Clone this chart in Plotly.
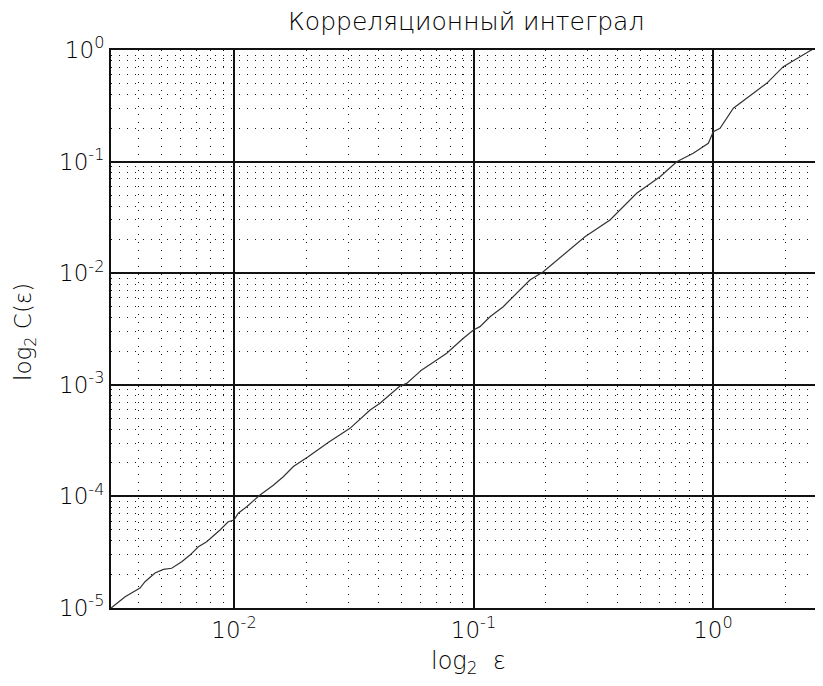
import plotly.graph_objects as go

# Curve values (epsilon, C(epsilon))
eps = [0.00307, 0.00351, 0.00405, 0.00425, 0.00468, 0.00507, 0.00549, 0.00605,
       0.00655, 0.00710, 0.00769, 0.00874, 0.00946, 0.0100, 0.01042, 0.0113,
       0.01284, 0.01459, 0.01606, 0.0177, 0.0204, 0.0249, 0.0305, 0.0370,
       0.0407, 0.0493, 0.0526, 0.0608, 0.0702, 0.0773, 0.0907, 0.100, 0.1064,
       0.1172, 0.1331, 0.1466, 0.159, 0.172, 0.1956, 0.245, 0.292, 0.3715,
       0.480, 0.601, 0.7054, 0.827, 0.956, 1.003, 1.07, 1.216, 1.473, 1.676,
       1.966, 2.308, 2.445, 2.541, 2.591]
corr = [1.00e-5, 1.26e-5, 1.51e-5, 1.72e-5, 2.06e-5, 2.22e-5, 2.27e-5, 2.60e-5,
        2.98e-5, 3.54e-5, 3.93e-5, 5.0e-5, 5.93e-5, 6.15e-5, 7.06e-5, 8.09e-5,
        1.03e-4, 1.26e-4, 1.50e-4, 1.85e-4, 2.27e-4, 3.07e-4, 4.07e-4, 5.94e-4,
        6.83e-4, 9.76e-4, 1.03e-3, 1.36e-3, 1.67e-3, 1.92e-3, 2.61e-3, 3.10e-3,
        3.32e-3, 4.07e-3, 5.01e-3, 6.16e-3, 7.22e-3, 8.69e-3, 1.031e-2, 1.56e-2,
        2.12e-2, 3.0e-2, 5.2e-2, 7.32e-2, 0.0998, 0.1187, 0.1459, 0.1853, 0.1988,
        0.3004, 0.409, 0.503, 0.7085, 0.871, 0.950, 0.986, 1.0]

x_major = [0.01, 0.1, 1]
x_major_text = ["10<sup>-2</sup>", "10<sup>-1</sup>", "10<sup>0</sup>"]
y_major = [1e-5, 1e-4, 1e-3, 1e-2, 1e-1, 1]
y_major_text = ["10<sup>-5</sup>", "10<sup>-4</sup>", "10<sup>-3</sup>",
                "10<sup>-2</sup>", "10<sup>-1</sup>", "10<sup>0</sup>"]

title_text = "Корреляционный интеграл"
xlabel = "log<sub>2</sub>  ε"
ylabel = "log<sub>2</sub> C(ε)"

x_minor = [m * 10 ** e for e in range(-3, 1) for m in range(2, 10)]
y_minor = [m * 10 ** e for e in range(-5, 0) for m in range(2, 10)]

FONT = "DejaVu Sans"
TXT = "#000000"

# page body has an 8px margin: figure is placed at (8, 8)
W, H = 815, 678
L, R, T, B = 103, 0, 42, 78
PW, PH = W - L - R, H - T - B


def px_x(page_x):
    return (page_x - 8 - L) / PW


def px_y(page_y):
    return (H - B - (page_y - 8)) / PH


fig = go.Figure()
fig.add_trace(go.Scatter(x=eps, y=corr, mode="lines",
                         line=dict(color="#333333", width=1.2),
                         showlegend=False, hoverinfo="skip"))

axis_common = dict(
    showgrid=True, gridcolor="#111111", gridwidth=1.6,
    showline=True, linecolor="#111111", linewidth=2,
    ticks="", zeroline=False,
    tickfont=dict(family=FONT, size=23, color=TXT, weight=300),
)

fig.update_xaxes(
    type="log", range=[-2.5136, 0.4593],
    tickmode="array", tickvals=x_major, ticktext=x_major_text,
    mirror=True,
    minor=dict(tickmode="array", tickvals=x_minor, showgrid=True,
               gridcolor="#111111", gridwidth=1.2, griddash="1px,7px"),
    **axis_common,
)
fig.update_yaxes(
    type="log", range=[-5, 0],
    tickmode="array", tickvals=y_major, ticktext=y_major_text,
    mirror=False,
    minor=dict(tickmode="array", tickvals=y_minor, showgrid=True,
               gridcolor="#111111", gridwidth=1.2, griddash="1px,7px"),
    **axis_common,
)

fig.add_annotation(text=title_text, xref="paper", yref="paper",
                   x=px_x(466), y=px_y(22), xanchor="center", yanchor="middle",
                   showarrow=False, font=dict(family=FONT, size=25, color=TXT, weight=300))
fig.add_annotation(text=xlabel, xref="paper", yref="paper",
                   x=px_x(468), y=px_y(662), xanchor="center", yanchor="middle",
                   showarrow=False, font=dict(family=FONT, size=24, color=TXT, weight=300))
fig.add_annotation(text=ylabel, xref="paper", yref="paper",
                   x=px_x(25), y=px_y(332), xanchor="center", yanchor="middle",
                   textangle=-90, showarrow=False,
                   font=dict(family=FONT, size=23, color=TXT, weight=300))

fig.update_layout(
    width=W, height=H,
    margin=dict(l=L, r=R, t=T, b=B),
    paper_bgcolor="white", plot_bgcolor="white",
    font=dict(family=FONT, color=TXT),
)

fig.write_html("out.html")
